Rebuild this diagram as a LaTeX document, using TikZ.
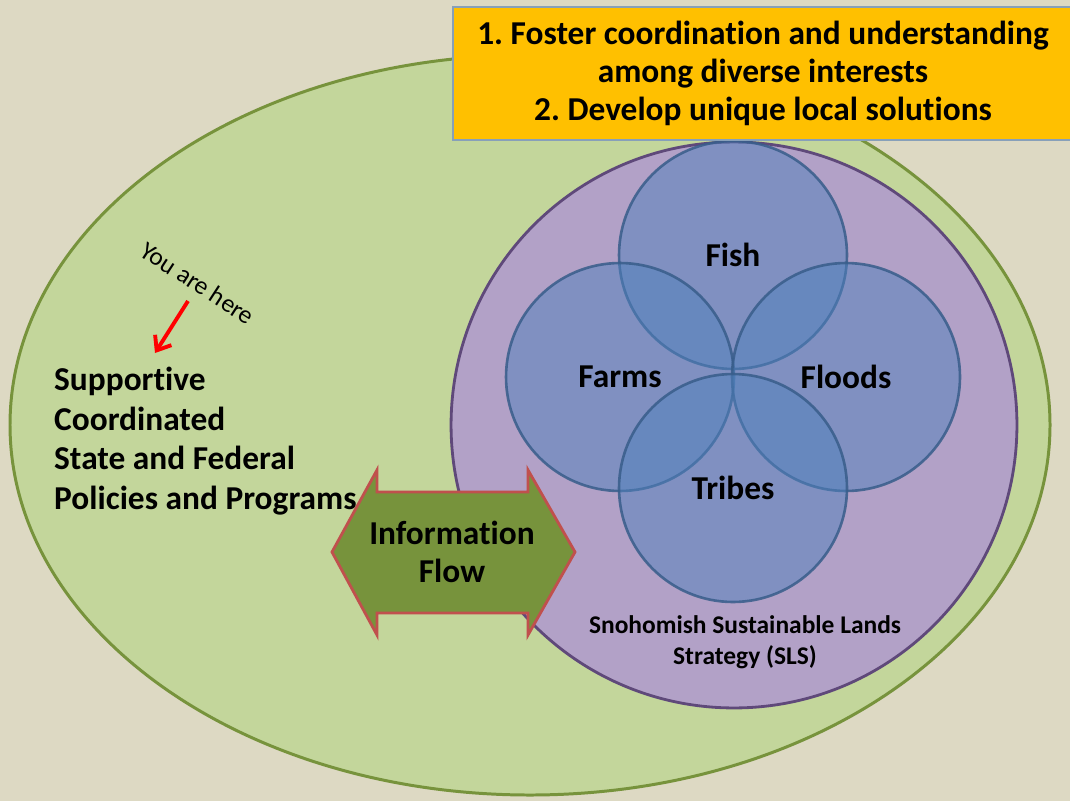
\documentclass[tikz,border=0pt]{standalone}
\usepackage{fontspec}
\setmainfont{Carlito}[Ligatures=NoCommon]
\usepackage{tikz}
\usetikzlibrary{positioning,calc,arrows.meta}
\definecolor{paper}{RGB}{221,217,195}
\definecolor{policygreen}{RGB}{195,214,155}
\definecolor{policyline}{RGB}{119,147,60}
\definecolor{slspurple}{RGB}{178,161,199}
\definecolor{slsline}{RGB}{95,73,122}
\definecolor{areablue}{RGB}{79,129,189}
\definecolor{arealine}{RGB}{56,93,138}
\definecolor{goalyellow}{RGB}{255,192,0}
\definecolor{goalline}{RGB}{135,160,185}
\definecolor{flowgreen}{RGB}{119,147,60}
\definecolor{flowline}{RGB}{192,80,77}
\frenchspacing

\begin{document}
\begin{tikzpicture}[x=0.02cm,y=-0.02cm,
    bigtext/.style={font=\bfseries\fontsize{19}{22}\selectfont},
    area/.style={circle,draw=arealine,fill=areablue,fill opacity=0.5,draw opacity=0.85,
      text opacity=1,line width=1.5pt,minimum size=4.56cm,inner sep=0pt,bigtext}]
    \useasboundingbox (0,0) rectangle (1070,801);
    \fill[paper] (0,0) rectangle (1070,801);

    % State and federal level
    \draw[fill=policygreen,draw=policyline,line width=1.7pt]
        (530,425) ellipse [x radius=520, y radius=370];

    % SLS circle
    \node[circle,fill=slspurple,draw=slsline,line width=1.6pt,minimum size=11.32cm] (sls) at (734,425) {};

    % Four interests
    \node[area] (fish) at (733,255) {Fish};
    \node[area] (farms) at (620,377) {Farms};
    \node[area] (floods) at (846,377) {Floods};
    \node[area] (tribes) at (733,488) {Tribes};

    \node[align=center,font=\bfseries\fontsize{14.5}{17.6}\selectfont] (slsname) at (745,642)
        {Snohomish Sustainable Lands\\Strategy (SLS)};

    % Information Flow
    \draw[fill=flowgreen,draw=flowline,line width=1.6pt]
        (332,552) -- (377,470) -- (377,492) -- (528,492) -- (528,470) -- (575,552)
        -- (528,635) -- (528,613) -- (377,613) -- (377,635) -- cycle;
    \node[align=center,font=\bfseries\fontsize{19}{22}\selectfont] (flow) at (452,552) {Information\\Flow};

    % Goals
    \node[draw=goalline,fill=goalyellow,line width=1pt,minimum width=12.4cm,minimum height=2.66cm,
        align=center,font=\bfseries\fontsize{19}{21.8}\selectfont] (goals) at (763,73.5)
        {1. Foster coordination and understanding\\among diverse interests\\2. Develop unique local solutions};

    % You are here
    \node[rotate=-33,font=\fontsize{14.5}{16}\selectfont] (here) at (198,283) {You are here};
    \coordinate (hereTail) at (188,301);
    \coordinate (hereHead) at (155,353);
    \draw[red,line width=2.2pt,-{Straight Barb[length=7pt,width=11pt]}] (hereTail) -- (hereHead);

    \node[anchor=west,align=left,font=\bfseries\fontsize{19}{22.5}\selectfont] (policies) at (48,441)
        {Supportive\\Coordinated\\State and Federal\\Policies and Programs};
\end{tikzpicture}
\end{document}
